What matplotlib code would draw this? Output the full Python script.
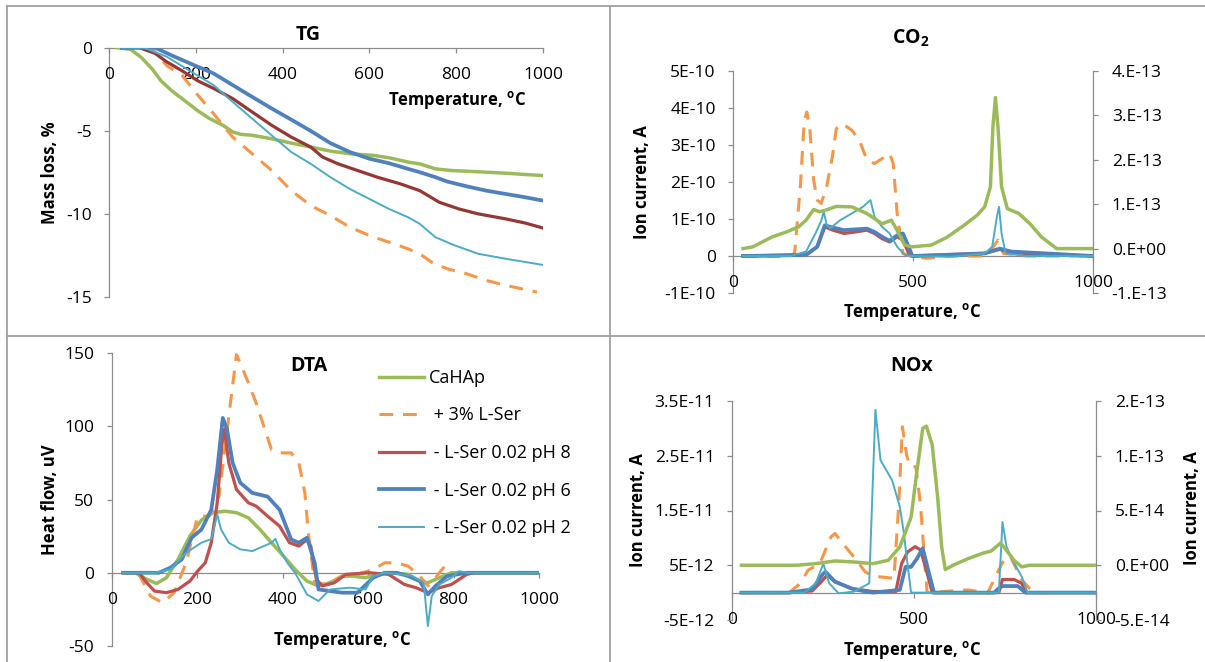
#!/usr/bin/env python3
"""TG / DTA / CO2 / NOx panels for CaHAp samples, laid out as a 2x2 table."""

import matplotlib
matplotlib.use("Agg")
import matplotlib.pyplot as plt
from matplotlib.lines import Line2D
import numpy as np

plt.rcParams["font.family"] = ["Open Sans", "DejaVu Sans"]
plt.rcParams["mathtext.fontset"] = "custom"
plt.rcParams["mathtext.rm"] = "Open Sans"
plt.rcParams["mathtext.bf"] = "Open Sans:bold"
plt.rcParams["axes.unicode_minus"] = False
plt.rcParams["lines.solid_joinstyle"] = "round"
plt.rcParams["lines.dash_joinstyle"] = "round"

FIG_W, FIG_H = 1205, 662

# ---- data -------------------------------------------------------------
SERIES = ["CaHAp", "+ 3% L-Ser", "- L-Ser 0.02 pH 8", "- L-Ser 0.02 pH 6",
          "- L-Ser 0.02 pH 2"]

# TG, mass loss %
tg_cahap_t = [20, 50, 75, 100, 120, 145, 170, 205, 232, 263, 285, 303, 330, 375,
              420, 465, 510, 555, 609, 645, 689, 716, 752, 788, 824, 869, 914, 959, 1000]
tg_cahap = [0, -0.1, -0.6, -1.3, -2.0, -2.6, -3.1, -3.8, -4.27, -4.67, -5.07, -5.21,
            -5.27, -5.48, -5.74, -5.98, -6.22, -6.38, -6.48, -6.62, -6.88, -6.99,
            -7.29, -7.39, -7.43, -7.49, -7.55, -7.63, -7.69]
tg_ser3_t = [30, 97, 134, 168, 203, 241, 285, 330, 375, 420, 465, 510, 555, 600,
             645, 689, 716, 743, 779, 824, 869, 914, 986]
tg_ser3 = [0, 0, -1.1, -1.65, -2.8, -3.97, -5.38, -6.38, -7.39, -8.6, -9.5, -10.1,
           -10.8, -11.3, -11.7, -12.1, -12.4, -12.9, -13.3, -13.6, -14.0, -14.3, -14.7]
tg_ph8_t = [30, 70, 106, 133, 169, 205, 241, 285, 330, 375, 420, 465, 492, 528,
            573, 618, 671, 716, 761, 806, 851, 914, 959, 1000]
tg_ph8 = [0, 0, -0.34, -0.85, -1.4, -2.0, -2.45, -3.06, -3.87, -4.67, -5.38, -5.98,
          -6.58, -6.99, -7.39, -7.79, -8.19, -8.6, -9.3, -9.7, -10.0, -10.3, -10.55,
          -10.85]
tg_ph6_t = [30, 106, 151, 196, 241, 285, 330, 375, 420, 465, 510, 555, 600, 645,
            689, 716, 752, 779, 824, 869, 914, 959, 1000]
tg_ph6 = [0, 0, -0.54, -1.05, -1.55, -2.25, -2.96, -3.66, -4.33, -5.01, -5.74,
          -6.28, -6.68, -6.95, -7.29, -7.49, -7.79, -8.05, -8.34, -8.6, -8.8, -9.0, -9.2]
tg_ph2_t = [30, 80, 133, 196, 241, 285, 330, 375, 420, 465, 510, 555, 600, 645,
            689, 716, 752, 797, 851, 914, 1000]
tg_ph2 = [0, 0, -0.54, -1.55, -2.25, -3.26, -4.27, -5.28, -6.28, -6.99, -7.79,
          -8.5, -9.1, -9.7, -10.2, -10.6, -11.4, -11.9, -12.4, -12.7, -13.07]

# DTA, heat flow uV
dta_cahap_t = [27, 55, 82, 105, 128, 155, 183, 210, 237, 265, 292, 320, 347, 374,
               402, 429, 457, 484, 511, 539, 566, 594, 621, 648, 694, 721, 740, 767,
               795, 1000]
dta_cahap = [0, 0, -4.5, -7.3, -3.4, 9, 25, 36, 41, 42, 41, 37.5, 29.5, 20.5, 11.4,
             2.3, -5.7, -9, -6.8, -2.3, -2.3, -3.4, -1.1, 0, -1.1, -5.7, -6.8, -3.4,
             0, 0]
dta_ser3_t = [62, 91, 119, 146, 174, 201, 228, 251, 274, 292, 301, 320, 338, 356,
              374, 393, 420, 438, 452, 461, 475, 502, 539, 575, 612, 639, 667, 694,
              721, 740, 758, 776, 795]
dta_ser3 = [0, -16, -20.5, -13.6, 6.8, 38.6, 38.6, 52, 106.8, 148.9, 143, 129.5,
            115.9, 100, 84, 81.8, 81.8, 75, 54.5, 25, -6.8, -8, -2.3, -1.1, 2.3, 6.8,
            6.8, 4.5, -2.3, -9, -3.4, 3.4, 0]
dta_ph8_t = [27, 64, 82, 100, 128, 155, 183, 201, 219, 233, 247, 258, 264, 274, 292,
             320, 338, 365, 393, 416, 438, 457, 466, 479, 493, 521, 548, 603, 648,
             685, 712, 740, 767, 795, 831, 849, 1000]
dta_ph8 = [0, 0, -6.8, -12.5, -13.6, -11.4, -5.7, 1.1, 6.8, 20.5, 47.7, 88, 98, 75,
           56.8, 47.7, 45.5, 38.6, 31.8, 20.5, 18.2, 22.7, 18, -4.5, -9, -6.8, -1.1,
           0, -1.1, -8, -10.2, -13.6, -10.2, -8, -1.1, 0, 0]
dta_ph6_t = [27, 110, 137, 164, 187, 210, 233, 247, 260, 270, 283, 301, 329, 365,
             393, 420, 438, 457, 475, 484, 511, 539, 575, 612, 639, 667, 694, 721,
             740, 758, 785, 831, 1000]
dta_ph6 = [0, 0, 3.4, 9.1, 23.9, 29.5, 43, 70.5, 105.7, 97.7, 75, 61.4, 54.5, 52, 43,
           22.7, 20.5, 23.9, 6.8, -11.4, -12.5, -13.6, -13.6, -3.4, 0, 0, -2.3, -5.7,
           -14.8, -9, -2.3, 0, 0]
dta_ph2_t = [27, 100, 137, 174, 210, 233, 247, 256, 274, 301, 329, 356, 374, 383,
             393, 411, 429, 457, 484, 511, 557, 594, 612, 639, 676, 703, 730, 740, 749,
             767, 795, 813, 831, 1000]
dta_ph2 = [0, 0, 2.3, 13.6, 20.5, 23, 39.8, 29.5, 20.5, 16, 14.8, 18.2, 20.5, 23.2,
           16, 6.8, 0, -14.8, -19.3, -11.4, -10.2, -11.4, -2.3, 0, -1.1, -2.3, -6.8,
           -36.4, -15.9, -8, -3.4, 1.1, 0, 0]

# CO2 ion current: samples in 1e-10 A (left axis), CaHAp in 1e-13 A (right axis)
co2_cahap_t = [28, 55, 108, 150, 182, 203, 224, 240, 255, 287, 330, 372, 414, 440,
               456, 477, 498, 551, 593, 636, 678, 699, 715, 722, 729, 736, 746, 762,
               794, 825, 857, 899, 1000]
co2_cahap = [0, 0.04, 0.26, 0.38, 0.49, 0.64, 0.88, 0.83, 0.86, 0.95, 0.94, 0.79,
             0.56, 0.64, 0.41, 0.08, 0.04, 0.08, 0.25, 0.49, 0.75, 0.94, 1.39, 2.74,
             3.40, 2.74, 1.39, 0.90, 0.79, 0.56, 0.26, 0, 0]
co2_ser3_t = [28, 150, 171, 187, 198, 205, 213, 224, 234, 245, 260, 276, 287, 303,
              330, 351, 372, 393, 414, 435, 445, 456, 472, 498, 540, 604, 699, 720,
              736, 751, 815, 1000]
co2_ser3 = [0, -0.02, 0.07, 1.87, 3.67, 3.89, 3.49, 2.05, 1.51, 1.42, 1.87, 2.68,
            3.44, 3.58, 3.40, 3.13, 2.59, 2.50, 2.63, 2.77, 2.50, 1.15, 0.07, -0.02,
            -0.06, 0, 0, 0.21, 0.43, 0.07, 0, 0]
co2_ph8_t = [28, 203, 234, 255, 277, 308, 340, 372, 393, 414, 435, 456, 472, 488,
             498, 699, 741, 773, 850, 1000]
co2_ph8 = [0, 0.03, 0.25, 0.79, 0.70, 0.61, 0.65, 0.70, 0.61, 0.47, 0.38, 0.52, 0.43,
           0.07, 0, 0.07, 0.18, 0.09, 0.05, 0]
co2_ph6_t = [28, 203, 234, 255, 277, 308, 340, 372, 393, 414, 435, 456, 472, 488,
             498, 699, 741, 773, 850, 1000]
co2_ph6 = [0, 0.03, 0.25, 0.83, 0.77, 0.70, 0.72, 0.74, 0.65, 0.52, 0.41, 0.56, 0.61,
           0.25, 0, 0.07, 0.20, 0.12, 0.08, 0]
co2_ph2_t = [28, 160, 203, 229, 245, 252, 260, 270, 298, 330, 361, 382, 393, 414,
             435, 456, 477, 498, 604, 699, 720, 733, 739, 746, 757, 815, 1000]
co2_ph2 = [0, 0, 0.12, 0.61, 0.95, 1.2, 0.85, 0.75, 0.97, 1.15, 1.33, 1.51, 1.06,
           0.79, 0.61, 0.25, 0.03, 0, -0.02, 0.07, 0.25, 1.06, 1.33, 0.61, 0.07, 0, 0]

# NOx ion current: samples in 1e-12 A (left axis), CaHAp in 1e-14 A (right axis)
nox_cahap_t = [26, 178, 230, 283, 335, 387, 429, 461, 492, 508, 524, 534, 550, 565,
               576, 586, 607, 649, 691, 712, 738, 754, 775, 796, 817, 1000]
nox_cahap = [0, 0, 0.15, 0.39, 0.30, 0.15, 0.45, 1.67, 4.39, 8.6, 12.5, 12.7, 11.0,
             6.2, 1.67, -0.39, 0, 0.61, 1.12, 1.30, 2.03, 1.36, 0.45, -0.15, 0, 0]
nox_ser3_t = [26, 157, 188, 209, 241, 272, 283, 304, 335, 366, 387, 419, 445, 458,
              468, 480, 490, 505, 518, 530, 536, 649, 702, 743, 764, 796, 817, 838, 869]
nox_ser3 = [0, 0, 1.7, 4.1, 5.3, 10.2, 10.8, 9.0, 6.5, 3.8, 3.0, 2.8, 2.6, 16.0,
            30.3, 25.0, 23.0, 23.0, 16.0, 5.0, 0, 0.5, -0.1, 5.5, 6.7, 2.3, 0.8, 0, 0]
nox_ph8_t = [26, 157, 220, 241, 262, 283, 325, 387, 450, 466, 482, 503, 518, 534,
             550, 733, 743, 775, 796, 806, 1000]
nox_ph8 = [0, 0, 0.3, 1.7, 3.2, 2.0, 0.8, 0.2, 0.2, 5.3, 7.4, 8.4, 7.8, 4.1, 0, 0,
           2.4, 2.4, 1.7, 0, 0]
nox_ph6_t = [26, 157, 220, 251, 257, 283, 335, 387, 461, 477, 492, 508, 524, 539,
             555, 720, 733, 743, 785, 806, 1000]
nox_ph6 = [0, 0, 0.6, 3.5, 3.8, 2.0, 0.6, 0, 0.5, 4.7, 4.7, 6.2, 8.1, 4.1, 0, 0, 0.8,
           1.2, 1.2, 0, 0]
nox_ph2_t = [26, 199, 230, 251, 267, 293, 335, 377, 387, 394, 408, 440, 461, 471,
             482, 492, 733, 743, 754, 770, 796, 812, 1000]
nox_ph2 = [0, 0, 1.7, 5.3, 1.7, -0.12, 0.18, 1.7, 20.5, 33.4, 24.2, 20.5, 15.7, 11.4,
           5.3, 0, 0, 12.9, 8.4, 6.0, 2.9, 0, 0]

# axis ticks and their labels
TG_YTICKS = [0, -5, -10, -15]
DTA_YTICKS = [-50, 0, 50, 100, 150]
CO2_LEFT_TICKS = [-1e-10, 0, 1e-10, 2e-10, 3e-10, 4e-10, 5e-10]
CO2_LEFT_LABELS = ["-1E-10", "0", "1E-10", "2E-10", "3E-10", "4E-10", "5E-10"]
CO2_RIGHT_TICKS = [-1e-13, 0, 1e-13, 2e-13, 3e-13, 4e-13]
CO2_RIGHT_LABELS = ["-1.E-13", "0.E+00", "1.E-13", "2.E-13", "3.E-13", "4.E-13"]
NOX_LEFT_TICKS = [-5e-12, 5e-12, 1.5e-11, 2.5e-11, 3.5e-11]
NOX_LEFT_LABELS = ["-5E-12", "5E-12", "1.5E-11", "2.5E-11", "3.5E-11"]
NOX_RIGHT_TICKS = [-5e-14, 0, 5e-14, 1e-13, 1.5e-13]
NOX_RIGHT_LABELS = ["-5.E-14", "0.E+00", "5.E-14", "1.E-13", "2.E-13"]

# ---- styles -----------------------------------------------------------
AXIS_GRAY = "#8C8C8C"
FRAME_GRAY = "#A0A0A0"
STYLE = {
    "CaHAp":             dict(color="#9BBB59", lw=2.5, ls="-"),
    "+ 3% L-Ser":        dict(color="#F79646", lw=2.2, ls=(0, (4.5, 3.2))),
    "- L-Ser 0.02 pH 8": dict(color="#C0504D", lw=2.3, ls="-"),
    "- L-Ser 0.02 pH 6": dict(color="#4F81BD", lw=2.7, ls="-"),
    "- L-Ser 0.02 pH 2": dict(color="#4BACC6", lw=1.4, ls="-"),
}
TEMP_LABEL = r"Temperature, $^\mathbf{o}$C"
TICK_FS = 12.5
LABEL_FS = 12
TITLE_FS = 14


def px_axes(fig, left, top, right, bottom):
    return fig.add_axes([left / FIG_W, 1 - bottom / FIG_H,
                         (right - left) / FIG_W, (bottom - top) / FIG_H])


def px_text(fig, x, y, s, **kw):
    fig.text(x / FIG_W, 1 - y / FIG_H, s, ha="center", va="center", **kw)


def curve(ax, t, v, name, scale=1.0, color=None):
    st = dict(STYLE[name])
    if color:
        st["color"] = color
    return ax.plot(np.asarray(t), np.asarray(v) * scale, label=name, zorder=3, **st)[0]


def style_axis(ax, ylim, xticks, yticks, ylabels=None):
    ax.set_xlim(0, 1000)
    ax.set_ylim(*ylim)
    ax.patch.set_visible(False)
    ax.spines["top"].set_visible(False)
    ax.spines["right"].set_visible(False)
    ax.spines["bottom"].set_position(("data", 0))
    for s in ("left", "bottom"):
        ax.spines[s].set_color(AXIS_GRAY)
        ax.spines[s].set_linewidth(0.9)
        ax.spines[s].set_zorder(1)
    ax.tick_params(direction="out", length=3.5, width=0.9, color=AXIS_GRAY,
                   labelsize=TICK_FS)
    ax.tick_params(axis="x", pad=10.5)
    ax.tick_params(axis="y", pad=9)
    ax.set_xticks(xticks)
    ax.set_yticks(yticks)
    if ylabels is not None:
        ax.set_yticklabels(ylabels)


def style_right(ax2, ylim, yticks, ylabels):
    ax2.set_ylim(*ylim)
    for s in ("left", "top", "bottom"):
        ax2.spines[s].set_visible(False)
    ax2.spines["right"].set_color(AXIS_GRAY)
    ax2.spines["right"].set_linewidth(0.9)
    ax2.tick_params(direction="out", length=3.5, width=0.9, color=AXIS_GRAY,
                    labelsize=TICK_FS, pad=10)
    ax2.set_yticks(yticks)
    ax2.set_yticklabels(ylabels)


def main():
    fig = plt.figure(figsize=(FIG_W / 100, FIG_H / 100), dpi=100)

    # table borders
    for x0, y0, x1, y1 in [(7, 5.5, FIG_W, 5.5), (7, 5.5, 7, FIG_H),
                           (610, 5.5, 610, FIG_H), (7, 336, FIG_W, 336)]:
        fig.add_artist(Line2D([x0 / FIG_W, x1 / FIG_W], [1 - y0 / FIG_H, 1 - y1 / FIG_H],
                              color=FRAME_GRAY, lw=1.3))

    # TG
    ax = px_axes(fig, 109, 47.7, 543, 297)
    curve(ax, tg_cahap_t, tg_cahap, SERIES[0])
    curve(ax, tg_ser3_t, tg_ser3, SERIES[1])
    curve(ax, tg_ph8_t, tg_ph8, SERIES[2], color="#953735")
    curve(ax, tg_ph6_t, tg_ph6, SERIES[3])
    curve(ax, tg_ph2_t, tg_ph2, SERIES[4])
    style_axis(ax, (-15, 0), range(0, 1001, 200), TG_YTICKS)
    px_text(fig, 308, 35, "TG", fontsize=TITLE_FS, fontweight="bold")
    px_text(fig, 457, 100, TEMP_LABEL, fontsize=LABEL_FS, fontweight="bold")
    px_text(fig, 50, 173, "Mass loss, %", fontsize=LABEL_FS, fontweight="bold",
            rotation=90)

    # CO2
    ax = px_axes(fig, 733, 71, 1093, 293)
    curve(ax, co2_ser3_t, co2_ser3, SERIES[1], 1e-10)
    curve(ax, co2_ph8_t, co2_ph8, SERIES[2], 1e-10)
    curve(ax, co2_ph6_t, co2_ph6, SERIES[3], 1e-10)
    curve(ax, co2_ph2_t, co2_ph2, SERIES[4], 1e-10)
    style_axis(ax, (-1e-10, 5e-10), [0, 500, 1000], CO2_LEFT_TICKS, CO2_LEFT_LABELS)
    ax2 = ax.twinx()
    curve(ax2, co2_cahap_t, co2_cahap, SERIES[0], 1e-13)
    style_right(ax2, (-1e-13, 4e-13), CO2_RIGHT_TICKS, CO2_RIGHT_LABELS)
    px_text(fig, 911, 38, r"CO$_\mathbf{2}$", fontsize=TITLE_FS, fontweight="bold")
    px_text(fig, 912, 312, TEMP_LABEL, fontsize=LABEL_FS, fontweight="bold")
    px_text(fig, 642, 182, "Ion current, A", fontsize=LABEL_FS, fontweight="bold",
            rotation=90)

    # DTA
    ax = px_axes(fig, 111.7, 353, 539, 646)
    handles = [
        curve(ax, dta_cahap_t, dta_cahap, SERIES[0]),
        curve(ax, dta_ser3_t, dta_ser3, SERIES[1]),
        curve(ax, dta_ph8_t, dta_ph8, SERIES[2]),
        curve(ax, dta_ph6_t, dta_ph6, SERIES[3]),
        curve(ax, dta_ph2_t, dta_ph2, SERIES[4]),
    ]
    style_axis(ax, (-50, 150), range(0, 1001, 200), DTA_YTICKS)
    labels = [SERIES[0]] + [" " + s for s in SERIES[1:]]
    ax.legend(handles, labels, loc="upper left",
              bbox_to_anchor=(379 / FIG_W, 1 - 369 / FIG_H),
              bbox_transform=fig.transFigure, frameon=False, fontsize=13,
              handlelength=2.5, handletextpad=0.25, labelspacing=1.08,
              borderpad=0, borderaxespad=0)
    px_text(fig, 309, 366, "DTA", fontsize=TITLE_FS, fontweight="bold")
    px_text(fig, 342, 640, TEMP_LABEL, fontsize=LABEL_FS, fontweight="bold")
    px_text(fig, 50, 500, "Heat flow, uV", fontsize=LABEL_FS, fontweight="bold",
            rotation=90)

    # NOx
    ax = px_axes(fig, 732, 401, 1096, 620)
    curve(ax, nox_ser3_t, nox_ser3, SERIES[1], 1e-12)
    curve(ax, nox_ph8_t, nox_ph8, SERIES[2], 1e-12)
    curve(ax, nox_ph6_t, nox_ph6, SERIES[3], 1e-12)
    curve(ax, nox_ph2_t, nox_ph2, SERIES[4], 1e-12)
    style_axis(ax, (-5e-12, 3.5e-11), [0, 500, 1000], NOX_LEFT_TICKS, NOX_LEFT_LABELS)
    ax2 = ax.twinx()
    curve(ax2, nox_cahap_t, nox_cahap, SERIES[0], 1e-14)
    style_right(ax2, (-5e-14, 1.5e-13), NOX_RIGHT_TICKS, NOX_RIGHT_LABELS)
    px_text(fig, 912, 366, "NOx", fontsize=TITLE_FS, fontweight="bold")
    px_text(fig, 912, 650, TEMP_LABEL, fontsize=LABEL_FS, fontweight="bold")
    px_text(fig, 638, 510, "Ion current, A", fontsize=LABEL_FS, fontweight="bold",
            rotation=90)
    px_text(fig, 1192, 508, "Ion current, A", fontsize=LABEL_FS, fontweight="bold",
            rotation=90)

    fig.savefig("out.png", dpi=100)
    plt.close(fig)


if __name__ == "__main__":
    main()
